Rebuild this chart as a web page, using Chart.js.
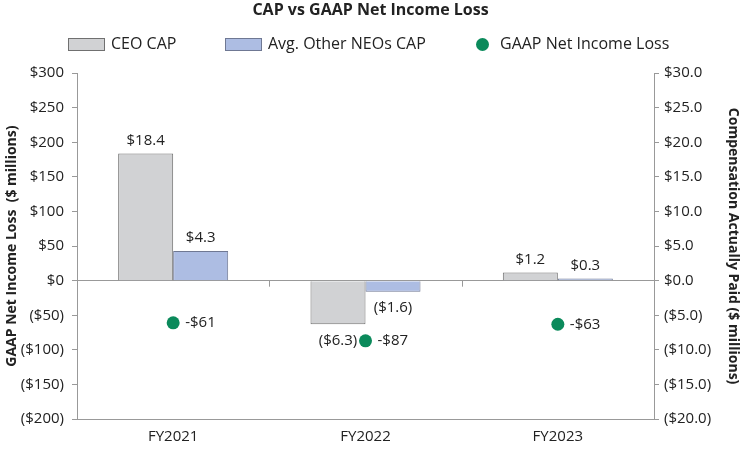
<!DOCTYPE html>
<html>
<head>
<meta charset="utf-8">
<script src="https://cdn.jsdelivr.net/npm/chart.js@4"></script>
<style>
  body { margin: 0; background: #fff; }
  #wrap { width: 741px; height: 450px; position: relative; }
</style>
</head>
<body>
<div id="wrap"><canvas id="cap-chart"></canvas></div>
<script>
const years = ["FY2021", "FY2022", "FY2023"]
const ceo_cap = [18.4, -6.3, 1.2]
const neo_cap = [4.3, -1.6, 0.3]
const net_income = [-61, -87, -63]

const left_ticks = [300, 250, 200, 150, 100, 50, 0, -50, -100, -150, -200]

const CEO_FILL = "#d1d2d4", CEO_LINE = "#707070"
const NEO_FILL = "#adbde3", NEO_LINE = "#6f7893"
const DOT = "#0b8a5b"
const AXIS = "#999"

const tick_font = { family: "'Open Sans', 'Noto Sans', sans-serif", size: 15 }

function money(v, digits) {
  let s = "$" + Math.abs(v).toFixed(digits)
  return v < 0 ? "(" + s + ")" : s
}

// value labels for bars and dots
const valueLabels = {
  id: "valueLabels",
  afterDatasetsDraw(chart) {
    const ctx = chart.ctx
    ctx.save()
    ctx.font = "15px 'Open Sans', sans-serif"
    ctx.fillStyle = "#222"
    chart.data.datasets.forEach((ds, di) => {
      const meta = chart.getDatasetMeta(di)
      meta.data.forEach((el, i) => {
        const v = ds.data[i]
        ctx.textBaseline = "middle"
        if (ds.type === "bar") {
          ctx.textAlign = "center"
          if (v >= 0) ctx.fillText(money(v, 1), el.x, el.y - 13)
          else ctx.fillText(money(v, 1), el.x, el.y + 16)
        } else {
          ctx.textAlign = "left"
          ctx.fillText("-$" + Math.abs(v), el.x + 12, el.y)
        }
      })
    })
    ctx.restore()
  }
}

// small tick marks on the zero line between categories
const zeroTicks = {
  id: "zeroTicks",
  afterDatasetsDraw(chart) {
    const x = chart.scales.x
    const y0 = chart.scales.y.getPixelForValue(0)
    const ctx = chart.ctx
    ctx.save()
    ctx.strokeStyle = AXIS
    ctx.lineWidth = 1
    for (let i = 0; i < years.length - 1; i++) {
      const px = Math.round((x.getPixelForValue(i) + x.getPixelForValue(i + 1)) / 2) + 0.5
      ctx.beginPath()
      ctx.moveTo(px, y0)
      ctx.lineTo(px, y0 + 6)
      ctx.stroke()
    }
    ctx.restore()
  }
}

// legend drawn by hand so the spacing matches
const legendRow = {
  id: "legendRow",
  afterDraw(chart) {
    const ctx = chart.ctx
    const y = 44.5
    const items = [
      { x: 68, kind: "box", fill: CEO_FILL, line: CEO_LINE, text: "CEO CAP" },
      { x: 225, kind: "box", fill: NEO_FILL, line: NEO_LINE, text: "Avg. Other NEOs CAP" },
      { x: 476, kind: "dot", fill: DOT, text: "GAAP Net Income Loss" }
    ]
    ctx.save()
    ctx.font = "16px 'Open Sans', sans-serif"
    ctx.textBaseline = "middle"
    ctx.textAlign = "left"
    items.forEach(it => {
      if (it.kind === "box") {
        ctx.fillStyle = it.fill
        ctx.fillRect(it.x, y - 6.5, 37, 13)
        ctx.strokeStyle = it.line
        ctx.lineWidth = 1
        ctx.strokeRect(it.x + 0.5, y - 6, 36, 12)
        ctx.fillStyle = "#222"
        ctx.fillText(it.text, it.x + 43, y)
      } else {
        ctx.fillStyle = it.fill
        ctx.beginPath()
        ctx.arc(it.x + 6.5, y, 6.5, 0, Math.PI * 2)
        ctx.fill()
        ctx.fillStyle = "#222"
        ctx.fillText(it.text, it.x + 24, y)
      }
    })
    ctx.restore()
  }
}

const ctx = document.getElementById("cap-chart").getContext("2d")

new Chart(ctx, {
  data: {
    labels: years,
    datasets: [
      {
        type: "line",
        label: "GAAP Net Income Loss",
        data: net_income,
        yAxisID: "y",
        showLine: false,
        pointRadius: 6.5,
        pointHoverRadius: 6.5,
        pointBackgroundColor: DOT,
        pointBorderWidth: 0,
        backgroundColor: DOT,
        order: 0
      },
      {
        type: "bar",
        label: "CEO CAP",
        data: ceo_cap,
        yAxisID: "y1",
        backgroundColor: CEO_FILL,
        borderColor: CEO_LINE,
        borderWidth: 1,
        categoryPercentage: 0.572,
        barPercentage: 1,
        order: 1
      },
      {
        type: "bar",
        label: "Avg. Other NEOs CAP",
        data: neo_cap,
        yAxisID: "y1",
        backgroundColor: NEO_FILL,
        borderColor: NEO_LINE,
        borderWidth: 1,
        categoryPercentage: 0.572,
        barPercentage: 1,
        order: 1
      }
    ]
  },
  options: {
    animation: false,
    responsive: true,
    maintainAspectRatio: false,
    layout: { padding: { left: 0, right: 0, top: 0, bottom: 0 } },
    plugins: {
      title: {
        display: true,
        text: "CAP vs GAAP Net Income Loss",
        color: "#222",
        font: { family: "'Open Sans', sans-serif", size: 16, weight: "bold" },
        padding: { top: 1, bottom: 53 }
      },
      legend: { display: false },
      tooltip: { enabled: false }
    },
    scales: {
      x: {
        grid: { display: false, drawTicks: false },
        border: { display: true, color: AXIS },
        ticks: { color: "#222", font: tick_font, padding: 9 },
        afterFit: (axis) => { axis.height = 31 }
      },
      y: {
        position: "left",
        min: -200,
        max: 300,
        afterBuildTicks: (axis) => { axis.ticks = left_ticks.map(v => ({ value: v })) },
        afterFit: (axis) => { axis.width = 77 },
        grid: {
          drawTicks: true,
          tickLength: 5,
          tickColor: AXIS,
          color: (c) => c.tick && c.tick.value === 0 ? AXIS : "rgba(0,0,0,0)"
        },
        border: { display: true, color: AXIS },
        ticks: {
          color: "#222",
          font: tick_font,
          padding: 8,
          callback: (v) => money(v, 0)
        },
        title: {
          display: true,
          text: "GAAP Net Income Loss  ($ millions)",
          color: "#222",
          font: { family: "'Open Sans', sans-serif", size: 14, weight: "bold" },
          padding: { top: 4, bottom: 0 }
        }
      },
      y1: {
        position: "right",
        min: -20,
        max: 30,
        afterFit: (axis) => { axis.width = 87 },
        grid: {
          drawOnChartArea: false,
          drawTicks: true,
          tickLength: 5,
          tickColor: AXIS
        },
        border: { display: true, color: AXIS },
        ticks: {
          stepSize: 5,
          color: "#222",
          font: tick_font,
          padding: 5,
          callback: (v) => money(v, 1)
        },
        title: {
          display: true,
          text: "Compensation Actually Paid ($ millions)",
          color: "#222",
          font: { family: "'Open Sans', sans-serif", size: 14, weight: "bold" },
          padding: { top: 0, bottom: 7 }
        }
      }
    }
  },
  plugins: [valueLabels, zeroTicks, legendRow]
});
</script>
</body>
</html>
